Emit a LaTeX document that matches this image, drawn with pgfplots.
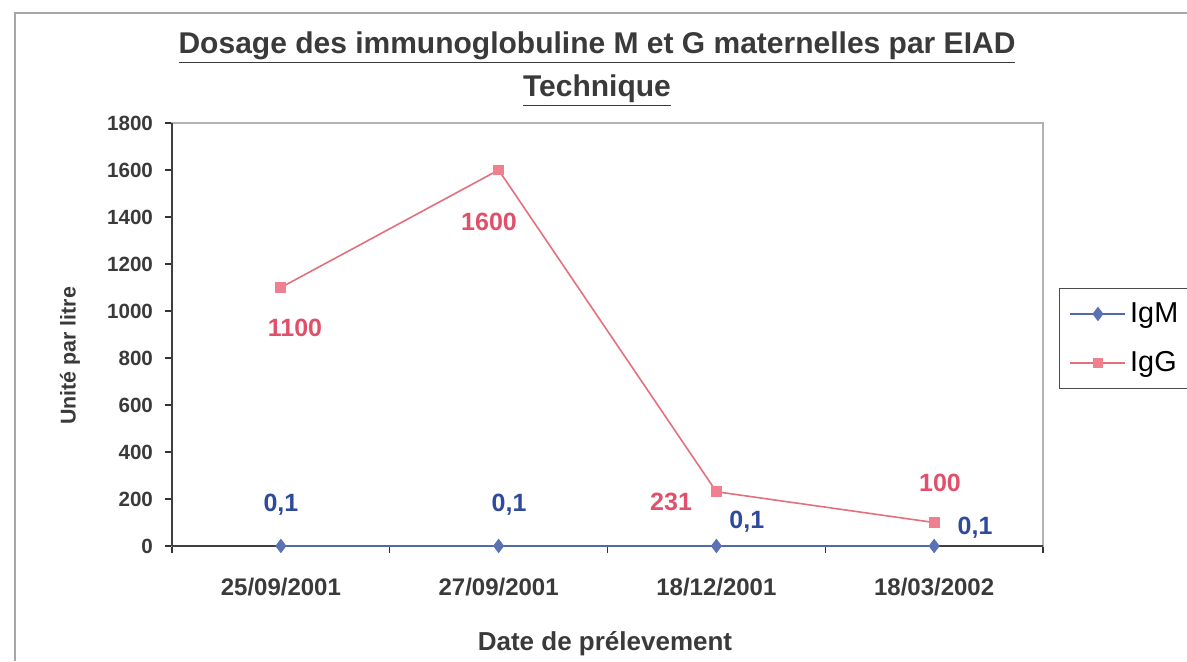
\documentclass[border=0pt]{standalone}
\usepackage{fontspec}
\setmainfont{Liberation Sans}
\usepackage{pgfplots}
\pgfplotsset{compat=1.18}
\definecolor{igmline}{HTML}{4F6BAE}
\definecolor{igmmark}{HTML}{5A72B4}
\definecolor{igmtext}{HTML}{2F4A9C}
\definecolor{iggline}{HTML}{E4707E}
\definecolor{iggmark}{HTML}{F0808F}
\definecolor{iggtext}{HTML}{E0506A}
\definecolor{txt}{HTML}{3A3A3A}
\pgfplotstableread{
x y
0 0.1
1 0.1
2 0.1
3 0.1
}\igm
\pgfplotstableread{
x y
0 1100
1 1600
2 231
3 100
}\igg
\begin{document}
\begin{tikzpicture}
\path[use as bounding box] (0,0) rectangle (593.5pt,330.5pt);
\draw[gray!70, line width=0.6pt] (7.5pt,0) -- (7.5pt,324pt) -- (600pt,324pt);
\node[font=\bfseries\fontsize{15}{18}\selectfont, text=txt] at (298.5pt,306.5pt) {\underline{Dosage des immunoglobuline M et G maternelles par EIAD}};
\node[font=\bfseries\fontsize{15}{18}\selectfont, text=txt] at (298.5pt,285pt) {\underline{Technique}};
\node[font=\bfseries\fontsize{13}{15}\selectfont, text=txt] at (302.5pt,8.5pt) {Date de prélevement};
\node[font=\bfseries\fontsize{10.7}{13}\selectfont, text=txt, rotate=90] at (35pt,152.5pt) {Unité par litre};
\begin{axis}[
  at={(86pt,57.5pt)}, anchor=south west, scale only axis,
  width=435.5pt, height=211.5pt,
  xmin=-0.5, xmax=3.5, ymin=0, ymax=1800,
  xtick={0,1,2,3},
  xticklabels={25/09/2001,27/09/2001,18/12/2001,18/03/2002},
  minor xtick={-0.5,0.5,1.5,2.5,3.5},
  ytick={0,200,...,1800},
  tick pos=left, tick align=outside,
  major tick length=3.5pt, minor tick length=3.5pt,
  major x tick style={draw=none},
  tick style={black!80, line width=0.6pt},
  axis line style={gray!60, line width=0.6pt},
  /pgf/number format/assume math mode=true,
  /pgf/number format/1000 sep={},
  xticklabel style={font=\bfseries\fontsize{12}{14}\selectfont, text=txt, yshift=-9pt},
  yticklabel style={font=\bfseries\fontsize{10.3}{12}\selectfont, text=txt, xshift=-2.5pt},
  legend style={at={(1.0184,0.61)}, anchor=north west,
    font=\fontsize{14.4}{16}\selectfont, draw=black!70, line width=0.6pt,
    inner xsep=5pt, inner ysep=5pt, row sep=9pt,
    /tikz/every even column/.append style={column sep=0pt}},
  legend image code/.code={%
    \draw[mark repeat=2,mark phase=2] plot coordinates {(0pt,0pt) (13.75pt,0pt) (27.5pt,0pt)};},
  legend cell align=left,
  clip=false,
]
\draw[black!75, line width=0.7pt] (rel axis cs:0,0) -- (rel axis cs:0,1);
\draw[black!75, line width=0.7pt] (rel axis cs:0,0) -- (rel axis cs:1,0);
\addplot[igmline, line width=0.8pt, mark=diamond*, mark size=3pt,
  mark options={fill=igmmark, draw=igmmark}] table[x=x,y=y] {\igm};
\addlegendentry{IgM}
\addplot[iggline, line width=0.8pt, mark=square*, mark size=2.3pt,
  mark options={fill=iggmark, draw=iggmark}] table[x=x,y=y] {\igg};
\addlegendentry{IgG}
\tikzset{lab/.style={font=\bfseries\fontsize{12.5}{15}\selectfont}}
\node[lab, text=iggtext] at (0.065,928) {1100};
\node[lab, text=iggtext] at (0.956,1379) {1600};
\node[lab, text=iggtext] at (1.792,187) {231};
\node[lab, text=iggtext] at (3.027,268) {100};
\node[lab, text=igmtext] at (0,174) {0,1};
\node[lab, text=igmtext] at (1.048,174) {0,1};
\node[lab, text=igmtext] at (2.14,102) {0,1};
\node[lab, text=igmtext] at (3.188,77) {0,1};
\end{axis}
\end{tikzpicture}
\end{document}
